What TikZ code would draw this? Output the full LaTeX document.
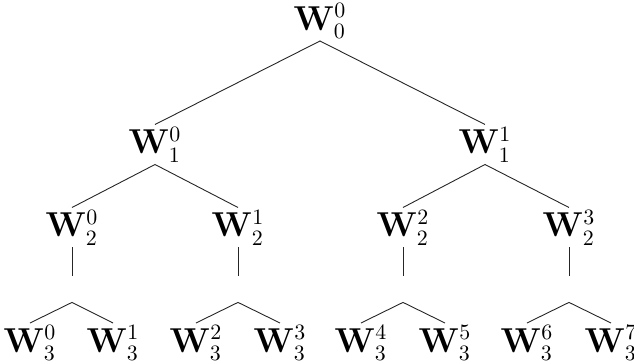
\documentclass[tikz,border=0pt]{standalone}
\usepackage{amsmath}
\begin{document}
\begin{tikzpicture}[x=0.5pt,y=-0.5pt,
  wnode/.style={inner sep=1pt,font=\fontsize{16}{19}\selectfont},
  gap/.style={inner sep=0pt,minimum height=13pt,minimum width=0pt},
  branch/.style={line width=0.45pt,black!85}]
\useasboundingbox (0,0) rectangle (634,364);
% level 0
\node[wnode] (r) at (320,21) {$\mathbf{W}_0^0$};
% level 1
\node[wnode] (a0) at (155,144.5) {$\mathbf{W}_1^0$};
\node[wnode] (a1) at (485,144.5) {$\mathbf{W}_1^1$};
% level 2
\node[wnode] (b0) at (72,227.5) {$\mathbf{W}_2^0$};
\node[wnode] (b1) at (238,227.5) {$\mathbf{W}_2^1$};
\node[wnode] (b2) at (403,227.5) {$\mathbf{W}_2^2$};
\node[wnode] (b3) at (569,227.5) {$\mathbf{W}_2^3$};
% empty intermediate nodes
\foreach \i/\x in {0/72,1/238,2/403,3/569}
  \node[gap] (e\i) at (\x,289) {};
% leaves
\foreach \i/\x in {0/30,1/113,2/196,3/280,4/361,5/445,6/527,7/611}
  \node[wnode] (c\i) at (\x,343) {$\mathbf{W}_3^{\i}$};
% edges
\draw[branch] (a0.north) -- (r.south) -- (a1.north);
\draw[branch] (b0.north) -- (a0.south) -- (b1.north);
\draw[branch] (b2.north) -- (a1.south) -- (b3.north);
\foreach \i in {0,...,3} \draw[branch] (b\i.south) -- (e\i.north);
\draw[branch] (c0.north) -- (e0.south) -- (c1.north);
\draw[branch] (c2.north) -- (e1.south) -- (c3.north);
\draw[branch] (c4.north) -- (e2.south) -- (c5.north);
\draw[branch] (c6.north) -- (e3.south) -- (c7.north);
\end{tikzpicture}
\end{document}
